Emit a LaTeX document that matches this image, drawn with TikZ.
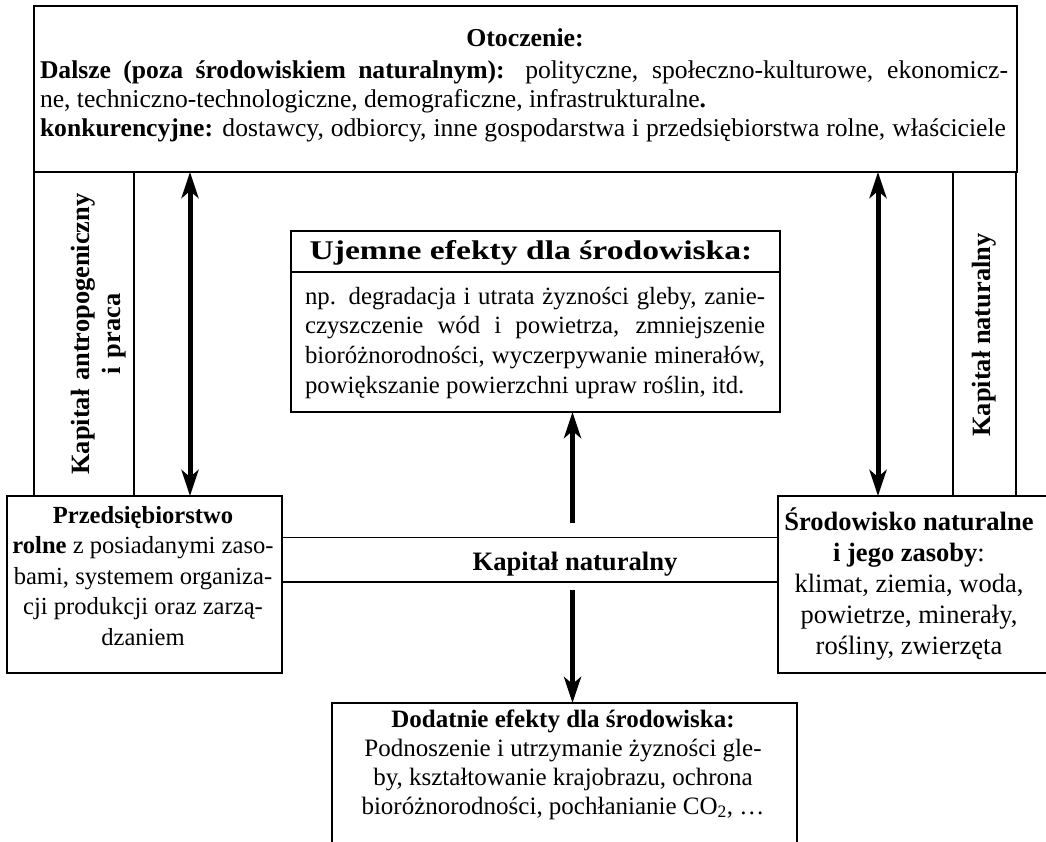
\documentclass[tikz,border=0pt]{standalone}
\usepackage{fontspec}
\usepackage{graphicx}
\setmainfont{Liberation Serif}
\usetikzlibrary{arrows.meta}

\begin{document}
\begin{tikzpicture}[x=1pt, y=-1pt,
  frame/.style={draw, line width=1.8pt, inner sep=0pt, outer sep=0pt},
  label/.style={inner sep=0pt, outer sep=0pt},
  rule/.style={line width=1.8pt},
  flow/.style={line width=5pt, -{Stealth[length=26pt, width=17pt, inset=7pt]}},
  twoway/.style={line width=5pt, {Stealth[length=26pt, width=17pt, inset=7pt]}-{Stealth[length=26pt, width=17pt, inset=7pt]}},
]
\useasboundingbox (0,0) rectangle (1046,842);
\clip (0,0) rectangle (1046,842);

% surroundings (top box)
\node[frame, minimum width=983pt, minimum height=166pt] (env) at (525.5,89) {};
\node[label, anchor=base, font=\fontsize{25.8}{29}\selectfont\bfseries] (envtitle) at (525,47) {Otoczenie:};
\node[label, anchor=base, text width=968pt, align=flush left, font=\fontsize{25.6}{29}\selectfont] (envtxt) at (524,79)
  {\makebox[968pt][s]{\textbf{Dalsze (poza środowiskiem naturalnym):} polityczne, społeczno-kulturowe, ekonomicz-}\\
   \mbox{ne, techniczno-technologiczne, demograficzne, infrastrukturalne\textbf{.}}\\
   \makebox[966pt][s]{\textbf{konkurencyjne:} dostawcy, odbiorcy, inne gospodarstwa i przedsiębiorstwa rolne, właściciele}};

% side columns
\node[frame, minimum width=100pt, minimum height=324pt] (lcol) at (84,334) {};
\node[label, rotate=90, anchor=base, text width=400pt, align=center, font=\fontsize{26.4}{30.5}\selectfont\bfseries] (lcoltxt) at (89.5,334)
  {Kapitał antropogeniczny\\i praca};
\node[frame, minimum width=63pt, minimum height=324pt] (rcol) at (984.5,334) {};
\node[label, rotate=90, anchor=base, font=\fontsize{26.4}{30.5}\selectfont\bfseries] (rcoltxt) at (990.5,335) {Kapitał naturalny};

% negative effects
\node[frame, minimum width=489pt, minimum height=181pt] (neg) at (535.5,321.5) {};
\coordinate (negsep) at (0,272);
\draw[rule] (neg.west |- negsep) -- (neg.east |- negsep);
\node[label, anchor=base, font=\fontsize{27}{30}\selectfont\bfseries] (negtitle) at (531,259.5)
  {\scalebox{1.245}[1]{Ujemne efekty dla środowiska:}};
\node[label, anchor=base, text width=460pt, align=flush left, font=\fontsize{24.8}{29.7}\selectfont] (negtxt) at (535,304)
  {\makebox[460pt][s]{np. degradacja i utrata żyzności gleby, zanie-}\\
   \makebox[460pt][s]{czyszczenie wód i powietrza, zmniejszenie}\\
   \makebox[460pt][s]{bioróżnorodności, wyczerpywanie minerałów,}\\
   \mbox{powiększanie powierzchni upraw roślin, itd.}};

% farm enterprise
\node[frame, minimum width=275pt, minimum height=177pt] (farm) at (144.5,584.5) {};
\node[label, anchor=base, text width=300pt, align=flush center, font=\fontsize{24.6}{30.5}\selectfont] (farmtxt) at (143,523)
  {\mbox{\textbf{Przedsiębiorstwo}}\\
   \mbox{\textbf{rolne} z posiadanymi zaso-}\\
   \mbox{bami, systemem organiza-}\\
   \mbox{cji produkcji oraz zarzą-}\\
   \mbox{dzaniem}};

% natural environment
\node[frame, minimum width=282pt, minimum height=177pt] (nat) at (919,584.5) {};
\node[label, anchor=base, text width=280pt, align=flush center, font=\fontsize{26.5}{31}\selectfont] (nattxt) at (909,530)
  {\textbf{Środowisko naturalne}\\ \textbf{i jego zasoby}:\\ klimat, ziemia, woda,\\ powietrze, minerały,\\ rośliny, zwierzęta};

% natural capital band
\coordinate (bandtop) at (0,537.5);
\coordinate (bandbot) at (0,582);
\draw[rule] (farm.east |- bandtop) -- (nat.west |- bandtop);
\draw[rule] (farm.east |- bandbot) -- (nat.west |- bandbot);
\node[label, anchor=base, font=\fontsize{26.6}{30}\selectfont\bfseries] (band) at (575,570) {Kapitał naturalny};

% positive effects
\node[frame, minimum width=465pt, minimum height=197pt] (pos) at (564.5,801.5) {};
\node[label, anchor=base, text width=465pt, align=flush center, font=\fontsize{25}{29}\selectfont] (postxt) at (563,727)
  {\textbf{Dodatnie efekty dla środowiska:}\\ Podnoszenie i utrzymanie żyzności gle-\\ by, kształtowanie krajobrazu, ochrona\\ bioróżnorodności, pochłanianie CO\textsubscript{2}, …};

% connectors
\coordinate (lax) at (190,0);
\coordinate (rax) at (878,0);
\draw[twoway] (env.south -| lax) -- (farm.north -| lax);
\draw[twoway] (env.south -| rax) -- (nat.north -| rax);
\coordinate (upfoot) at (572.5,523);
\draw[flow] (upfoot) -- (neg.south -| upfoot);
\coordinate (dnfoot) at (572.5,590);
\draw[flow] (dnfoot) -- (pos.north -| dnfoot);
\end{tikzpicture}
\end{document}
